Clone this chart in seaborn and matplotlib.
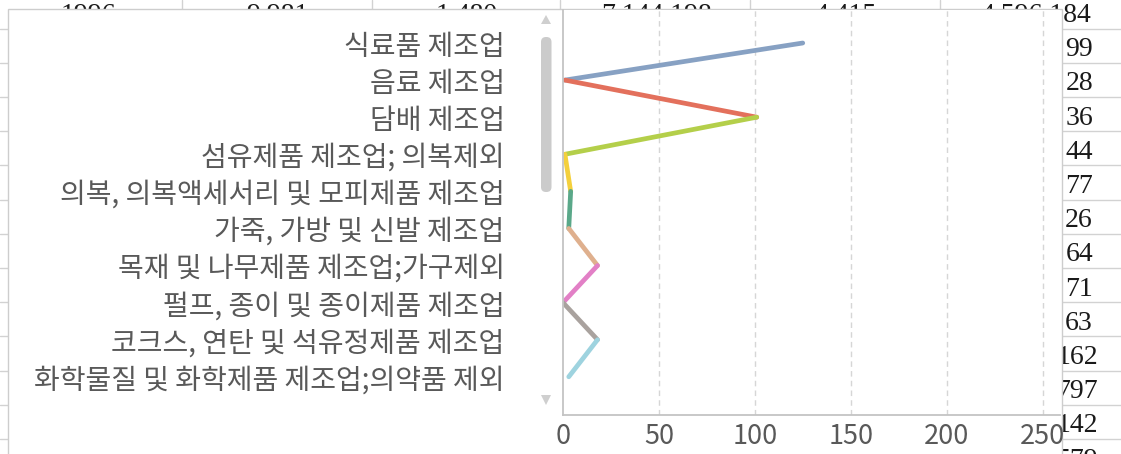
import matplotlib
matplotlib.use("Agg")
import matplotlib.pyplot as plt
from matplotlib.patches import Rectangle, FancyBboxPatch, Polygon
from matplotlib.lines import Line2D
from matplotlib.transforms import Affine2D
import numpy as np
import pandas as pd
import seaborn as sns

# Industry categories and their values
categories = [
    "식료품 제조업",
    "음료 제조업",
    "담배 제조업",
    "섬유제품 제조업; 의복제외",
    "의복, 의복액세서리 및 모피제품 제조업",
    "가죽, 가방 및 신발 제조업",
    "목재 및 나무제품 제조업;가구제외",
    "펄프, 종이 및 종이제품 제조업",
    "코크스, 연탄 및 석유정제품 제조업",
    "화학물질 및 화학제품 제조업;의약품 제외",
]
values = [125, 1, 101, 1, 4, 3, 18, 0, 18, 3]
segment_colors = ["#87a1c3", "#e3705c", "#b4cf4a", "#f4d03c", "#5aa889",
                  "#dfb08e", "#e280c6", "#a9a29e", "#9ed3df"]
x_ticks = [0, 50, 100, 150, 200, 250]

# Spreadsheet cells visible around the chart window
header_cells = ["1996", "9,981", "1,480", "7,144,198", "4,415", "4,596,184"]
side_cells = ["99", "28", "36", "44", "77", "26", "64", "71", "63",
              "162", "797", "142", "579"]

sns.set_theme(style="white")
plt.rcParams["font.family"] = ["Noto Sans CJK KR", "DejaVu Sans"]

W, H = 1121, 454
fig = plt.figure(figsize=(W / 100, H / 100), dpi=100)
fig.patch.set_facecolor("white")
px = Affine2D().scale(1 / W, -1 / H).translate(0, 1) + fig.transFigure

grid_c = "#d2d2d2"
row_h = 34.2
cell_font = dict(fontsize=20, color="#1a1a1a", family="Liberation Serif",
                 zorder=0.2)
# --- spreadsheet background ---
for i, txt in enumerate(header_cells):
    cx = 88 + 189.5 * i
    fig.text(cx, 22, txt, transform=px, ha="center", va="baseline",
             **cell_font)
for sx in [182, 372, 560, 750, 940]:
    fig.add_artist(Line2D([sx, sx], [0, 9], transform=px, color=grid_c,
                          lw=1, zorder=0.3))
for k, txt in enumerate(side_cells):
    right = 1093 + 5 * (len(txt) - 2)
    fig.text(right, 22 + row_h * (k + 1), txt, transform=px, ha="right",
             va="baseline", **cell_font)
for k in range(13):
    y = 28.5 + row_h * k
    fig.add_artist(Line2D([0, 8], [y, y], transform=px, color=grid_c,
                          lw=1, zorder=0.3))
    fig.add_artist(Line2D([1062, W], [y, y], transform=px, color=grid_c,
                          lw=1, zorder=0.3))

# --- chart window ---
fig.add_artist(Rectangle((8, 9), 1054, 460, transform=px, facecolor="white",
                         edgecolor="#cdcdcd", lw=1, zorder=1))
fig.add_artist(FancyBboxPatch((541, 37), 10.5, 155, transform=px,
                              boxstyle="round,pad=0,rounding_size=5",
                              facecolor="#cbcbcb", edgecolor="none",
                              zorder=1.5))
fig.add_artist(Polygon([[541, 24], [551, 24], [546, 15]], closed=True,
                       transform=px, facecolor="#cfcfcf", edgecolor="none",
                       zorder=1.5))
fig.add_artist(Polygon([[541, 395], [551, 395], [546, 405]], closed=True,
                       transform=px, facecolor="#cfcfcf", edgecolor="none",
                       zorder=1.5))

# --- line chart ---
ax_l, ax_r, ax_t, ax_b = 563, 1060, 10, 415
ax = fig.add_axes([ax_l / W, 1 - ax_b / H, (ax_r - ax_l) / W, (ax_b - ax_t) / H])
ax.set_zorder(2)

rows = []
for k in range(len(categories) - 1):
    rows.append({"segment": k, "value": values[k], "pos": k})
    rows.append({"segment": k, "value": values[k + 1], "pos": k + 1})
seg_df = pd.DataFrame(rows)

sns.lineplot(data=seg_df, x="value", y="pos", hue="segment",
             palette=segment_colors, orient="y", sort=False, legend=False,
             linewidth=3.4, solid_capstyle="round", ax=ax)

ax.set_xlim(0, (ax_r - ax_l) / 1.918)
ax.set_ylim(10.03, -0.89)
ax.set_xticks(x_ticks)
ax.set_xticklabels([str(t) for t in x_ticks])
ax.set_yticks(range(len(categories)))
ax.set_yticklabels(categories)
ax.set_xlabel("")
ax.set_ylabel("")

for t in x_ticks[1:]:
    ax.axvline(t, color="#d6d6d6", lw=1, ls=(0, (4, 3)), zorder=0)

for s in ["top", "right"]:
    ax.spines[s].set_visible(False)
for s in ["left", "bottom"]:
    ax.spines[s].set_color("#c4c4c4")
    ax.spines[s].set_linewidth(1.3)

ax.tick_params(axis="y", length=0, pad=42, labelsize=20.2, labelcolor="#595959")
ax.tick_params(axis="x", length=0, pad=6, labelsize=19.5, labelcolor="#595959")

fig.savefig("out.png", dpi=100)
